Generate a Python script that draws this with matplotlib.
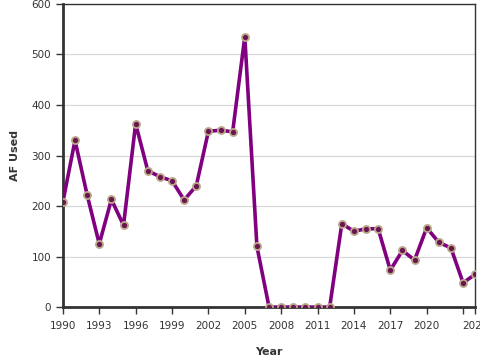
import matplotlib
matplotlib.use("Agg")
import matplotlib.pyplot as plt

years = list(range(1990, 2025))
af_used = [208, 330, 222, 125, 213, 162, 363, 270, 258, 250, 212, 240,
           348, 350, 347, 535, 120, 0, 0, 0, 0, 0, 0, 165, 150, 155, 155,
           73, 112, 93, 157, 128, 117, 48, 65]
tick_years = list(range(1990, 2024, 3)) + [2024]
tick_labels = [str(y) for y in range(1990, 2024, 3)]
tick_labels[-1] = ""
tick_labels.append("2024")

fig = plt.figure(figsize=(4.8, 3.6), dpi=100)
ax = fig.add_axes([0.131, 0.147, 0.859, 0.842])

ax.plot(years, af_used, color="#800080", lw=2.6, zorder=3)
ax.scatter(years, af_used, s=26, c="#6a1450", edgecolors="#b9a98a",
           linewidths=1.3, zorder=4)

ax.set_xlim(1990, 2024)
ax.set_ylim(0, 600)
ax.set_xticks(tick_years)
ax.set_xticklabels(tick_labels)
ax.set_yticks(range(0, 601, 100))
ax.grid(True, axis="y", color="#d8d8d8", lw=0.9)
ax.set_axisbelow(True)

for s in ["left", "bottom"]:
    ax.spines[s].set_linewidth(2)
    ax.spines[s].set_color("#333333")
for s in ["top", "right"]:
    ax.spines[s].set_linewidth(1)
    ax.spines[s].set_color("#333333")

ax.tick_params(axis="both", labelsize=7.5, colors="#333333", length=5, width=1)
ax.tick_params(axis="x", pad=5)
ax.set_xlabel("Year", fontsize=8, fontweight="bold", color="#333333")
ax.set_ylabel("AF Used", fontsize=8, fontweight="bold", color="#333333")
ax.xaxis.set_label_coords(0.50, -0.132)
ax.yaxis.set_label_coords(-0.105, 0.50)

fig.savefig("out.png", dpi=100)
